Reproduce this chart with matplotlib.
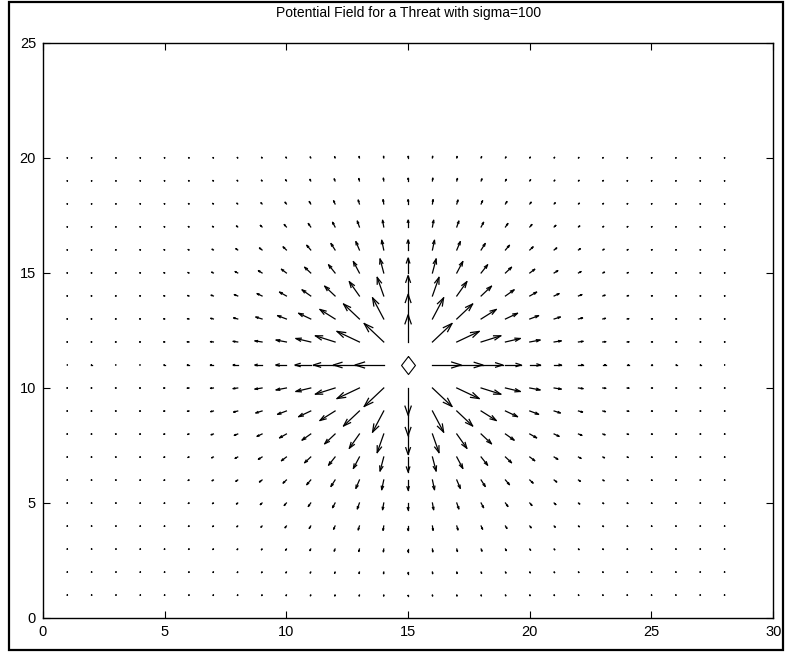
import numpy as np
import matplotlib.pyplot as plt
from matplotlib.collections import LineCollection
from matplotlib.patches import Rectangle

plt.rcParams['font.family'] = ['Liberation Sans', 'DejaVu Sans']

# Threat location and the grid of field points
threat_x = 15
threat_y = 11
grid_x = np.arange(1, 29)
grid_y = np.arange(1, 21)

# Arrow length (data units) against distance from the threat
ring_dist = [0, 1, 2, 3, 4, 5, 6, 7, 8, 9, 10, 12, 15, 20]
ring_len = [1.20, 1.18, 1.07, 0.89, 0.65, 0.44, 0.30, 0.19, 0.12, 0.07, 0.04, 0.02, 0.01, 0.005]

X, Y = np.meshgrid(grid_x, grid_y)
dx = X - threat_x
dy = Y - threat_y
r = np.hypot(dx, dy)
L = np.interp(r, ring_dist, ring_len)
rs = np.where(r > 0, r, 1)
U = np.where(r > 0, dx / rs * L, 0.0)
V = np.where(r > 0, dy / rs * L, 0.0)

# matlab-style open arrowheads
alpha, beta = 0.33, 0.33
segs = []
for x, y, u, v in zip(X.ravel(), Y.ravel(), U.ravel(), V.ravel()):
    tx, ty = x + u, y + v
    segs.append([(x, y), (tx, ty)])
    h1 = (tx - alpha * (u + beta * v), ty - alpha * (v - beta * u))
    h2 = (tx - alpha * (u - beta * v), ty - alpha * (v + beta * u))
    segs.append([h1, (tx, ty), h2])

fig = plt.figure(figsize=(7.86, 6.53), dpi=100)
ax = fig.add_axes([0.0547, 0.0536, 0.929, 0.8806])

lc = LineCollection(segs, colors='black', linewidths=0.9, capstyle='projecting')
ax.add_collection(lc)

# diamond marking the threat (wider than matplotlib's 'd')
diamond = [(0, 0.65), (0.5, 0), (0, -0.65), (-0.5, 0), (0, 0.65)]
ax.plot([threat_x], [threat_y], marker=diamond, markersize=13, markerfacecolor='none',
        markeredgecolor='black', markeredgewidth=0.8, linestyle='none')

ax.set_xlim(0, 30)
ax.set_ylim(0, 25)
ax.set_xticks([0, 5, 10, 15, 20, 25, 30])
ax.set_yticks([0, 5, 10, 15, 20, 25])
ax.tick_params(direction='in', top=True, right=True, length=5, width=0.8,
               labelsize=10.5, pad=5)
for s in ax.spines.values():
    s.set_linewidth(1.0)

ax.set_title('Potential Field for a Threat with sigma=100', fontsize=10, pad=19)

# figure border
fig.patches.append(Rectangle((0.0115, 0.0046), 0.9845, 0.9924, transform=fig.transFigure,
                             fill=False, edgecolor='black', linewidth=1.6))

fig.savefig('out.png', dpi=100)
